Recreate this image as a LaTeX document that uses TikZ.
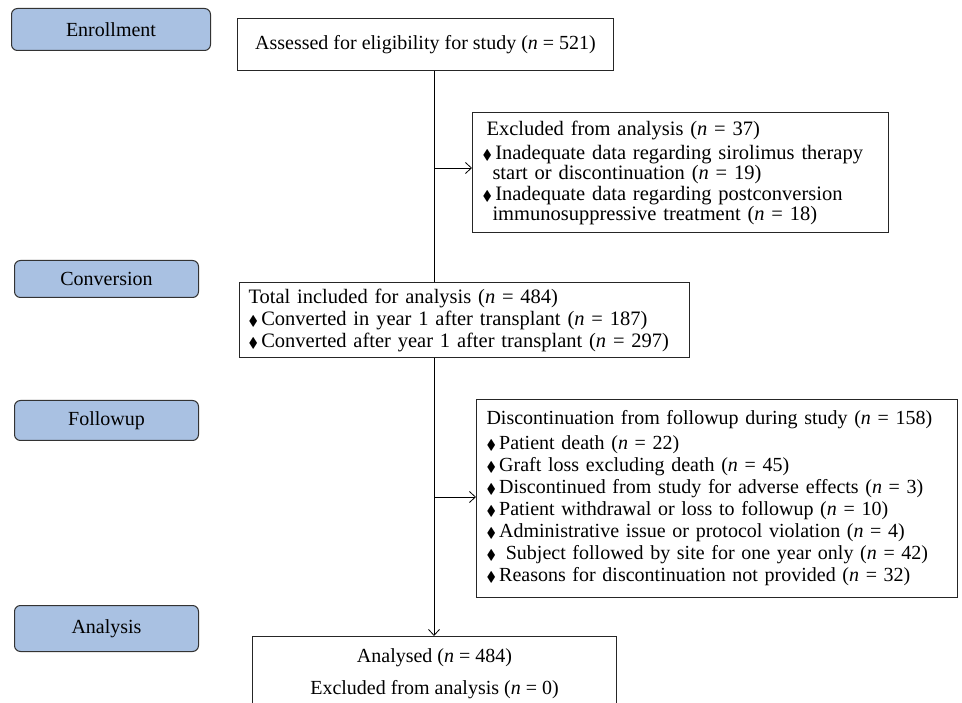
\documentclass[tikz,border=0pt]{standalone}
\usepackage{fontspec}
\setmainfont{Liberation Serif}
\usepackage{amssymb}
\usetikzlibrary{arrows.meta}
\definecolor{stageblue}{RGB}{169,193,226}
\newcommand{\itm}{{\fontsize{14}{14}\selectfont$\blacklozenge$}\,}
\newcommand{\nn}[1]{(\textit{n} = #1)}
\tikzset{
	stage/.style={draw=black!80, fill=stageblue, rounded corners=6pt, line width=1pt, anchor=north west, inner sep=0pt},
	box/.style={draw=black!85, line width=1pt, anchor=north west, inner xsep=10pt, inner ysep=0pt},
	flow/.style={line width=0.8pt},
	tip/.style={-{Straight Barb[length=6pt,width=11pt]}},
}
\begin{document}
\begin{tikzpicture}[x=1pt, y=-1pt, font=\fontsize{20}{22}\selectfont]
	\useasboundingbox (0,0) rectangle (962,703);
	\clip (0,0) rectangle (962,703);
	
	% stages
	\node[stage, minimum width=199pt, minimum height=42pt] (enroll) at (11,8) {Enrollment};
	\node[stage, minimum width=184pt, minimum height=37pt] (conv) at (14,260) {Conversion};
	\node[stage, minimum width=184pt, minimum height=40pt] (follow) at (14,400) {Followup};
	\node[stage, minimum width=184pt, minimum height=46pt] (analysis) at (14,605) {Analysis};
	
	% boxes
	\node[box, minimum width=376pt, minimum height=52pt] (assess) at (237,18)
		{Assessed for eligibility for study \nn{521}};
	\node[box, minimum width=416pt, minimum height=120pt, text width=396pt, align=left,
		font=\fontsize{20.5}{19.5}\selectfont] (excl) at (472,112)
		{\hspace*{4pt}Excluded from analysis \nn{37}\\[5pt]
		\itm Inadequate data regarding sirolimus therapy\\
		\hspace*{10pt}start or discontinuation \nn{19}\\[2pt]
		\itm Inadequate data regarding postconversion\\
		\hspace*{10pt}immunosuppressive treatment \nn{18}\\[3pt]};
	\node[box, minimum width=450pt, minimum height=75pt, text width=440pt, align=left,
		inner xsep=5pt, font=\fontsize{20.5}{22}\selectfont] (total) at (239,282)
		{\hspace*{4pt}Total included for analysis \nn{484}\\
		\hspace*{4pt}\itm Converted in year 1 after transplant \nn{187}\\
		\hspace*{4pt}\itm Converted after year 1 after transplant \nn{297}\\[4pt]};
	\node[box, minimum width=481pt, minimum height=198pt, text width=461pt, align=left,
		font=\fontsize{20}{22}\selectfont] (disc) at (476,399)
		{Discontinuation from followup during study \nn{158}\\[3pt]
		\itm Patient death \nn{22}\\
		\itm Graft loss excluding death \nn{45}\\
		\itm Discontinued from study for adverse effects \nn{3}\\
		\itm Patient withdrawal or loss to followup \nn{10}\\
		\itm Administrative issue or protocol violation \nn{4}\\
		\itm\ Subject followed by site for one year only \nn{42}\\
		\itm Reasons for discontinuation not provided \nn{32}\\[4pt]};
	\node[box, minimum width=364pt, minimum height=74pt, align=center,
		font=\fontsize{20}{22}\selectfont] (analysed) at (252,636)
		{Analysed \nn{484}\\[10pt]
		Excluded from analysis \nn{0}};
	
	% connectors
	\coordinate (spine) at (434,0);
	\coordinate (b1) at (434,168);
	\coordinate (b2) at (434,497);
	\draw[flow] (assess.south -| spine) -- (total.north -| spine);
	\draw[flow, tip] (b1) -- (b1 -| excl.west);
	\draw[flow, tip] (total.south -| spine) -- (analysed.north -| spine);
	\draw[flow, tip] (b2) -- (b2 -| disc.west);
\end{tikzpicture}
\end{document}
